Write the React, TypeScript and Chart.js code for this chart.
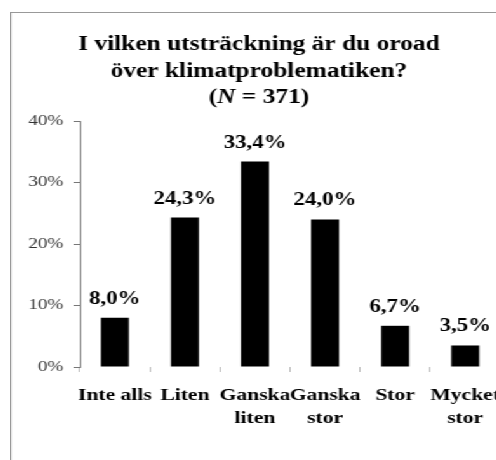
import React, { useEffect, useRef } from "react";
import { Chart, registerables } from "chart.js";

Chart.register(...registerables);

const categories: (string | string[])[] = [
  "Inte alls",
  "Liten",
  ["Ganska", "liten"],
  ["Ganska", "stor"],
  "Stor",
  ["Mycket", "stor"],
];
const values = [8.0, 24.3, 33.4, 24.0, 6.7, 3.5];
const yTickValues = [0, 10, 20, 30, 40];
const titleLines = ["I vilken utsträckning är du oroad", "över klimatproblematiken?"];
const sampleLabel = "N";
const sampleSize = "371";

const SERIF = "'Liberation Serif', 'Times New Roman', serif";
const STRETCH = 1.27;

const fmt = (v: number) => v.toFixed(1).replace(".", ",") + "%";

const titlePlugin = {
  id: "customTitle",
  afterDraw(chart: any) {
    const ctx = chart.ctx;
    const cx = chart.width / 2;
    ctx.save();
    ctx.fillStyle = "#000";
    ctx.textBaseline = "middle";
    ctx.textAlign = "center";
    ctx.font = `bold 20px ${SERIF}`;
    const ys = [32, 59];
    titleLines.forEach((line, i) => ctx.fillText(line, cx, ys[i]));
    // third line with italic N
    const a = "(";
    const c = ` = ${sampleSize})`;
    const boldFont = `bold 20px ${SERIF}`;
    const italFont = `italic bold 20px ${SERIF}`;
    ctx.font = boldFont;
    const wa = ctx.measureText(a).width;
    const wc = ctx.measureText(c).width;
    ctx.font = italFont;
    const wb = ctx.measureText(sampleLabel).width;
    const total = wa + wb + wc;
    let x = cx - total / 2;
    const y3 = 85;
    ctx.textAlign = "left";
    ctx.font = boldFont;
    ctx.fillText(a, x, y3);
    x += wa;
    ctx.font = italFont;
    ctx.fillText(sampleLabel, x, y3);
    x += wb;
    ctx.font = boldFont;
    ctx.fillText(c, x, y3);
    ctx.restore();
  },
};

const valueLabelPlugin = {
  id: "valueLabels",
  afterDatasetsDraw(chart: any) {
    const ctx = chart.ctx;
    const meta = chart.getDatasetMeta(0);
    ctx.save();
    ctx.fillStyle = "#000";
    ctx.font = `bold 18px ${SERIF}`;
    ctx.textAlign = "center";
    ctx.textBaseline = "alphabetic";
    meta.data.forEach((el: any, i: number) => {
      const v = chart.data.datasets[0].data[i] as number;
      ctx.fillText(fmt(v), el.x, el.y - 14);
    });
    ctx.restore();
  },
};

export default function App() {
  const ref = useRef<HTMLCanvasElement | null>(null);

  useEffect(() => {
    if (!ref.current) return;
    const chart = new Chart(ref.current, {
      type: "bar",
      data: {
        labels: categories,
        datasets: [
          {
            data: values,
            backgroundColor: "#000",
            borderWidth: 0,
            barPercentage: 0.4,
            categoryPercentage: 1,
          },
        ],
      },
      options: {
        responsive: false,
        devicePixelRatio: 1,
        animation: false,
        layout: { padding: { top: 108, left: 0, right: 5, bottom: 0 } },
        plugins: {
          legend: { display: false },
          tooltip: { enabled: false },
          title: { display: false },
        },
        scales: {
          x: {
            offset: true,
            grid: {
              display: true,
              drawOnChartArea: false,
              drawTicks: true,
              tickLength: 5,
              color: "#bbb",
              offset: true,
            },
            border: { display: false },
            ticks: {
              color: "#000",
              padding: 12,
              maxRotation: 0,
              autoSkip: false,
              font: { family: SERIF, size: 17, weight: "bold", lineHeight: 1.35 },
            },
            afterFit: (scale: any) => {
              scale.height = 93;
              scale.paddingLeft = 0;
              scale.paddingRight = 0;
            },
          },
          y: {
            min: 0,
            max: 40,
            afterBuildTicks: (scale: any) => {
              scale.ticks = yTickValues.map((v) => ({ value: v }));
            },
            grid: {
              display: true,
              drawOnChartArea: false,
              drawTicks: true,
              tickLength: 5,
              color: "#777",
            },
            border: { display: true, color: "#777", width: 1 },
            ticks: {
              color: "#333",
              padding: 8,
              font: { family: SERIF, size: 15 },
              callback: (v: any) => `${v}%`,
            },
            afterFit: (scale: any) => {
              scale.width = 54;
              scale.paddingTop = 0;
              scale.paddingBottom = 0;
            },
          },
        },
      },
      plugins: [titlePlugin, valueLabelPlugin],
    });
    return () => chart.destroy();
  }, []);

  return (
    <div
      style={{
        position: "fixed",
        left: 0,
        top: 0,
        width: 496,
        height: 460,
        overflow: "hidden",
        background: "#fff",
      }}
    >
      <div
        style={{
          position: "absolute",
          left: 10,
          top: 12,
          transform: `scaleX(${STRETCH})`,
          transformOrigin: "0 0",
          borderLeft: "1px solid #999",
          borderTop: "1px solid #999",
        }}
      >
        <canvas ref={ref} width={390} height={447} style={{ display: "block" }} />
      </div>
    </div>
  );
}
